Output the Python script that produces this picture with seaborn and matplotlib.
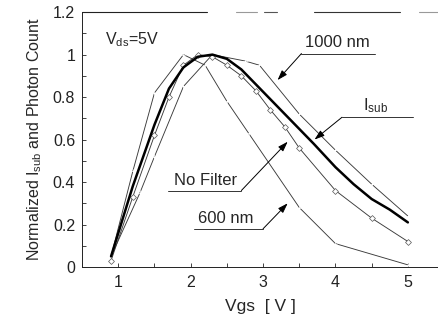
import matplotlib
matplotlib.use("Agg")
import matplotlib.pyplot as plt
import seaborn as sns
import pandas as pd
import numpy as np

# ---- data ----
isub_x = [0.9, 1.2, 1.5, 1.7, 1.9, 2.1, 2.3, 2.5, 2.7, 2.9, 3.1, 3.3, 3.5, 3.7, 4.0, 4.25, 4.5, 4.75, 5.0]
isub_y = [0.05, 0.38, 0.67, 0.84, 0.94, 0.99, 1.0, 0.98, 0.93, 0.86, 0.79, 0.72, 0.65, 0.58, 0.47, 0.39, 0.32, 0.27, 0.21]

nofilter_x = [0.9, 1.2, 1.5, 1.7, 1.9, 2.1, 2.3, 2.5, 2.7, 2.9, 3.1, 3.3, 3.5, 4.0, 4.5, 5.0]
nofilter_y = [0.03, 0.33, 0.62, 0.80, 0.95, 1.0, 0.99, 0.95, 0.90, 0.83, 0.74, 0.66, 0.56, 0.36, 0.23, 0.12]

nm1000_x = [0.9, 1.3, 1.5, 1.9, 2.3, 2.75, 2.95, 3.5, 4.0, 4.5, 5.0]
nm1000_y = [0.05, 0.35, 0.52, 0.85, 1.0, 0.97, 0.95, 0.72, 0.55, 0.39, 0.24]

nm600_x = [0.9, 1.2, 1.5, 1.9, 2.2, 2.5, 2.8, 3.5, 4.0, 5.0]
nm600_y = [0.05, 0.45, 0.82, 1.0, 0.95, 0.78, 0.63, 0.28, 0.11, 0.01]

x_ticks = [1, 2, 3, 4, 5]
y_ticks = [0, 0.2, 0.4, 0.6, 0.8, 1.0, 1.2]
y_tick_labels = ["0", "0.2", "0.4", "0.6", "0.8", "1", "1.2"]

sns.set_style("ticks")
plt.rcParams["font.family"] = ["Liberation Sans", "DejaVu Sans"]
plt.rcParams["mathtext.fontset"] = "custom"
plt.rcParams["mathtext.rm"] = "Liberation Sans"
plt.rcParams["mathtext.it"] = "Liberation Sans"
plt.rcParams["mathtext.default"] = "regular"

fig = plt.figure(figsize=(4.39, 3.28), dpi=100)
ax = fig.add_axes([0.187, 0.186, 0.813, 0.777])

line_col = "#3a3a3a"
sns.lineplot(x=nm600_x, y=nm600_y, ax=ax, color=line_col, lw=0.65, marker="+", ms=3.5,
             mew=0.5, sort=False)
sns.lineplot(x=nm1000_x, y=nm1000_y, ax=ax, color=line_col, lw=0.65, marker="+", ms=4,
             mew=0.5, sort=False)
sns.lineplot(x=nofilter_x, y=nofilter_y, ax=ax, color=line_col, lw=0.65, marker="D", ms=3,
             mfc="white", mec="#555555", mew=0.5, sort=False)
sns.lineplot(x=isub_x, y=isub_y, ax=ax, color="black", lw=1.8, sort=False)

ax.set_xlim(0.5, 5.43)
ax.set_ylim(0, 1.2)
ax.set_xticks(x_ticks)
ax.set_xticks(np.arange(0.5, 5.5, 0.5), minor=True)
ax.set_yticks(y_ticks)
ax.set_yticklabels(y_tick_labels)
ax.set_yticks(np.arange(0, 1.21, 0.1), minor=True)
ax.tick_params(axis="both", which="both", direction="in", length=3, width=0.6, colors="#222222",
               labelsize=11.5)
ax.tick_params(axis="x", pad=6)
ax.tick_params(axis="y", pad=5)

ax.spines["right"].set_visible(False)
ax.spines["top"].set_visible(False)
for s in ["left", "bottom"]:
    ax.spines[s].set_linewidth(0.7)
    ax.spines[s].set_color("#222222")

# broken top frame as in the scan
tr = ax.transAxes
for (a, b), c in [((0.0, 0.35), "#222222"), ((0.43, 0.49), "#999999"), ((0.51, 0.545), "#555555"),
                  ((0.65, 0.89), "#333333"), ((0.945, 1.0), "#999999")]:
    ax.plot([a, b], [1, 1], transform=tr, color=c, lw=0.8, clip_on=False)

ax.set_xlabel("Vgs  [ V ]", fontsize=12.5, labelpad=6)
ax.set_ylabel("Normalized I$_{sub}$ and Photon Count", fontsize=11.5, labelpad=6)

# annotations
ax.text(0.82, 1.07, "V$_{ds}$=5V", fontsize=11.5, ha="left", va="center")

def label(text, tx, ty, ux0, ux1, uy, tipx, tipy, from_left):
    ax.text(tx, ty, text, fontsize=12, ha="center", va="bottom")
    ax.plot([ux0, ux1], [uy, uy], color="#333333", lw=0.7)
    start = (ux0, uy) if from_left else (ux1, uy)
    ax.annotate("", xy=(tipx, tipy), xytext=start,
                arrowprops=dict(arrowstyle="-|>,head_length=0.6,head_width=0.2", color="black",
                                lw=0.7, shrinkA=0, shrinkB=0))

label("1000 nm", 4.02, 1.02, 3.53, 4.55, 1.005, 3.2, 0.88, True)
label("I$_{sub}$", 4.55, 0.715, 4.09, 5.07, 0.705, 3.71, 0.60, True)
label("No Filter", 2.2, 0.37, 1.68, 2.70, 0.36, 3.34, 0.59, False)
label("600 nm", 2.48, 0.195, 2.05, 3.0, 0.18, 3.34, 0.30, False)

fig.savefig("out.png", dpi=100)
